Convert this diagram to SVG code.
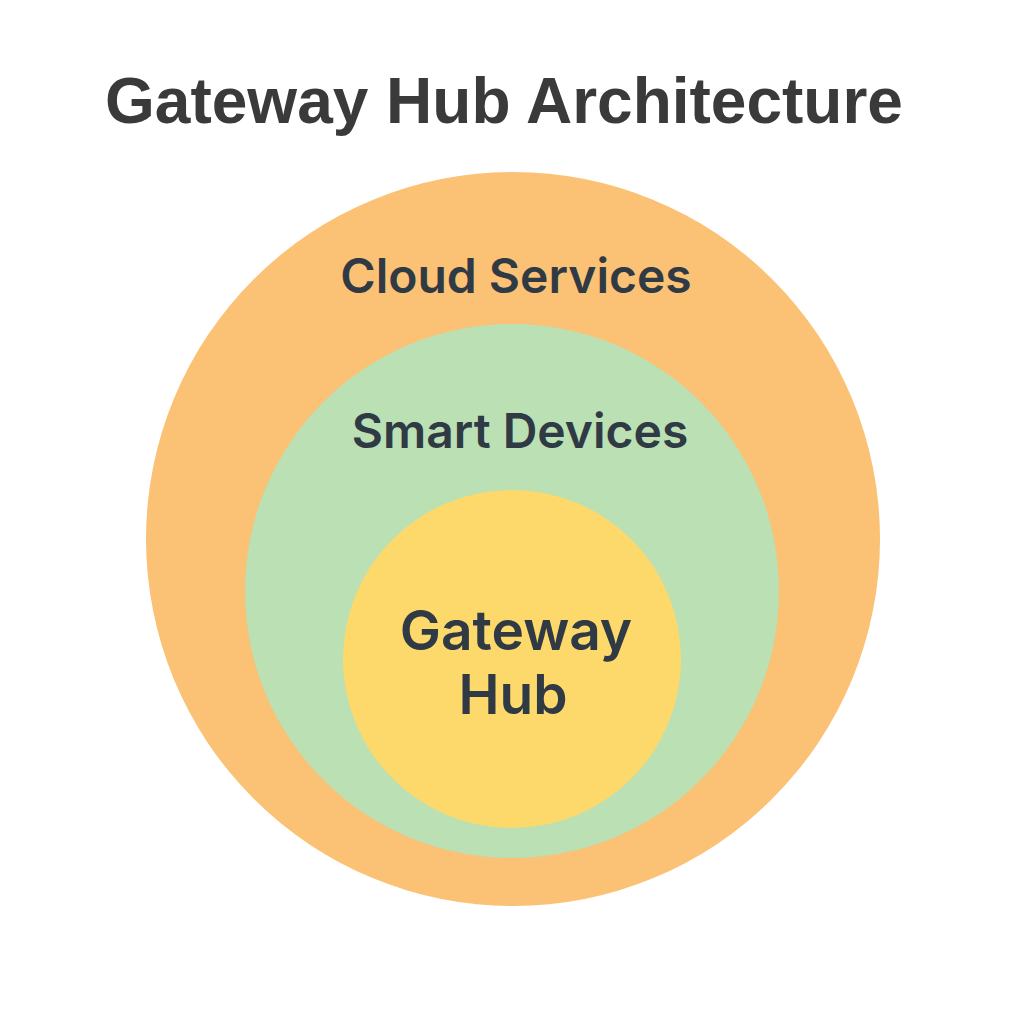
<svg xmlns="http://www.w3.org/2000/svg" width="1024" height="1024" viewBox="0 0 1024 1024">
<style>
.title{font-family:"Liberation Sans",Arial,sans-serif;font-weight:700;font-size:64px;fill:#3a3a3a;text-anchor:middle}
.lbl{font-family:Inter,"Noto Sans",sans-serif;font-weight:600;fill:#2f3a45;text-anchor:middle}
</style>
<rect width="1024" height="1024" fill="#ffffff"/>
<text class="title" x="504" y="123">Gateway Hub Architecture</text>
<g id="cloud">
<circle cx="513" cy="539" r="367" fill="#fbc174"/>
<text class="lbl" x="516" y="293" font-size="48">Cloud Services</text>
</g>
<g id="devices">
<circle cx="512" cy="591" r="267" fill="#bbe0b3"/>
<text class="lbl" x="520" y="448" font-size="48">Smart Devices</text>
</g>
<g id="hub">
<circle cx="512" cy="659" r="169" fill="#fdd96b"/>
<text class="lbl" x="516" y="650" font-size="55">Gateway</text>
<text class="lbl" x="513" y="714" font-size="55">Hub</text>
</g>
<g id="connectors"/>
</svg>
